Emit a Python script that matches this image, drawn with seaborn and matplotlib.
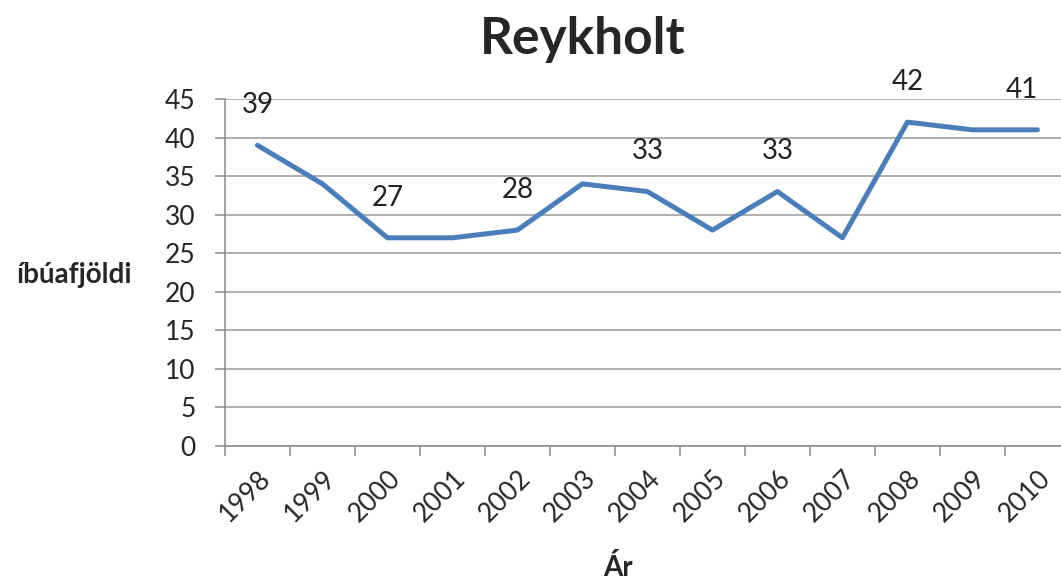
import matplotlib
matplotlib.use("Agg")
import matplotlib.pyplot as plt
import seaborn as sns
import pandas as pd

years = ["1998", "1999", "2000", "2001", "2002", "2003", "2004",
         "2005", "2006", "2007", "2008", "2009", "2010"]
residents = [39, 34, 27, 27, 28, 34, 33, 28, 33, 27, 42, 41, 41]
# every other point carries a data label
labelled = [True, False, True, False, True, False, True,
            False, True, False, True, False, True]

sns.set_style("white")
plt.rcParams['font.family'] = ['Lato', 'DejaVu Sans']

df = pd.DataFrame({'Ár': years, 'íbúafjöldi': residents})

fig = plt.figure(figsize=(10.61, 5.79), dpi=100)
ax = fig.add_axes([0.212, 0.2297, 0.7964, 0.5993])

sns.lineplot(x='Ár', y='íbúafjöldi', data=df, ax=ax, color='#4A7EBB',
             linewidth=3.6, solid_capstyle='round', solid_joinstyle='round')

ax.set_xlim(-0.5, len(years) - 0.5)
ax.set_ylim(0, 45)
ax.set_yticks(range(0, 46, 5))
ax.yaxis.grid(True, color='#9a9a9a', linewidth=1.1)
ax.set_axisbelow(True)

# ticks at category boundaries, labels at centres
ax.set_xticks([i - 0.5 for i in range(len(years) + 1)], minor=False)
ax.set_xticklabels([])
ax.set_xticks(range(len(years)), minor=True)
ax.set_xticklabels(years, minor=True, rotation=45, ha='right',
                   rotation_mode='anchor', fontsize=19)
ax.tick_params(axis='x', which='minor', length=0, pad=14)
ax.tick_params(axis='x', which='major', length=7, width=1.1, color='#8a8a8a',
               direction='out', bottom=True)
ax.tick_params(axis='y', length=7, width=1.1, color='#8a8a8a',
               direction='out', left=True, labelsize=19, pad=14)

for side in ['top', 'right']:
    ax.spines[side].set_visible(False)
for side in ['left', 'bottom']:
    ax.spines[side].set_color('#8a8a8a')
    ax.spines[side].set_linewidth(1.1)

for i, (yr, val) in enumerate(zip(years, residents)):
    if labelled[i]:
        dx = -11 if i == len(years) - 1 else 0
        ax.annotate(str(val), (i, val), xytext=(dx, 29),
                    textcoords='offset points', ha='center', va='center',
                    fontsize=20, color='#222222', annotation_clip=False)

ax.set_xlabel('')
ax.set_ylabel('')
fig.text(0.549, 0.931, 'Reykholt', ha='center', va='center',
         fontsize=37, fontweight='bold')
fig.text(0.070, 0.525, 'íbúafjöldi', ha='center', va='center',
         fontsize=20, fontweight='bold')
fig.text(0.582, 0.02, 'Ár', ha='center', va='center',
         fontsize=20, fontweight='bold')

fig.savefig('out.png', dpi=100)
